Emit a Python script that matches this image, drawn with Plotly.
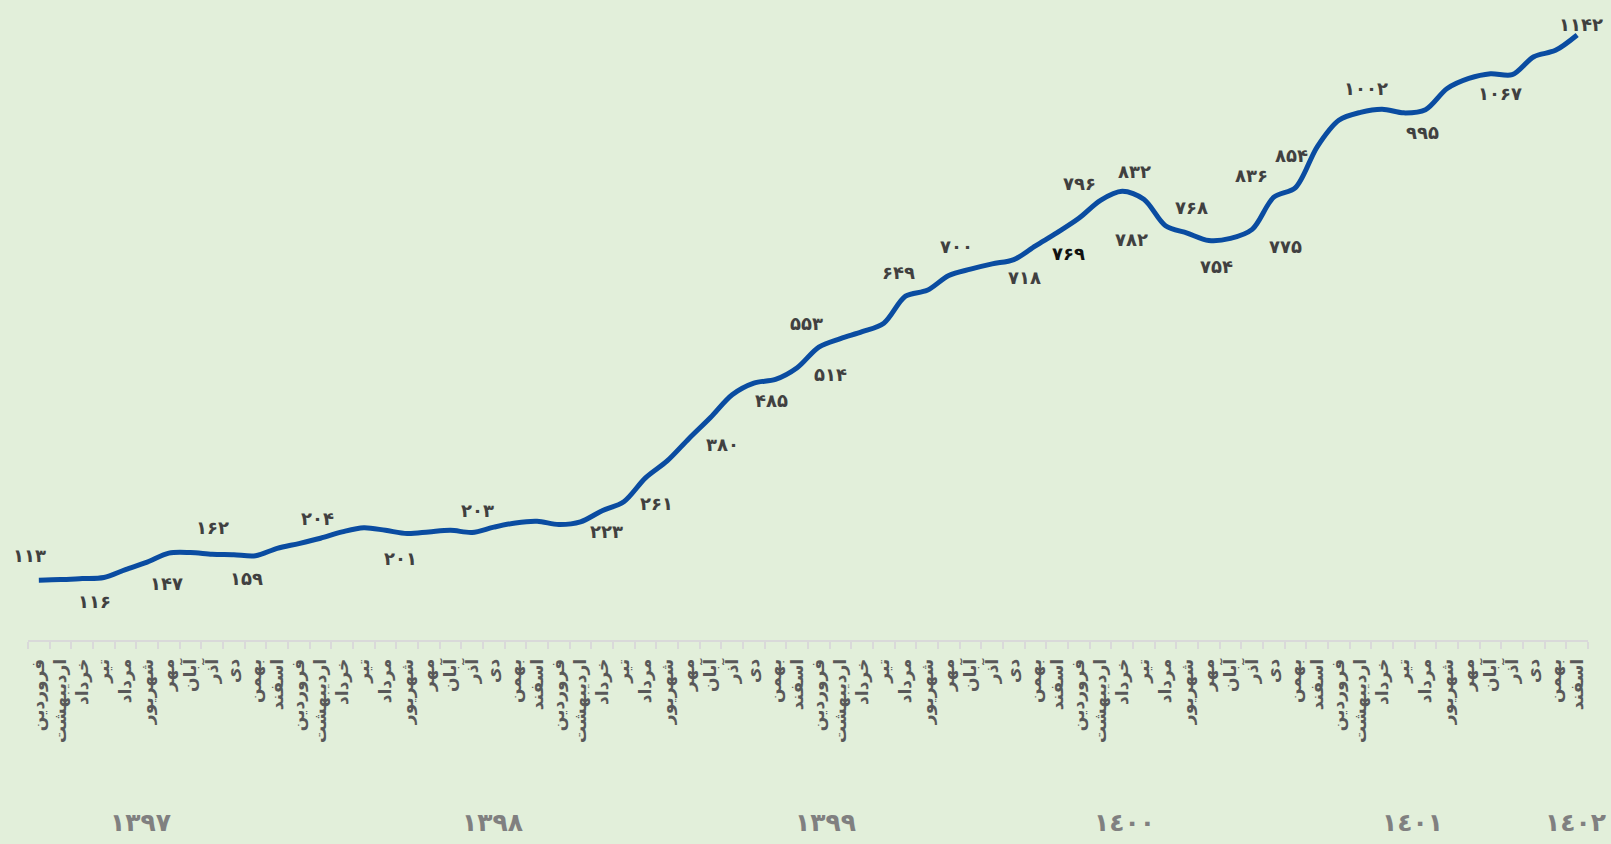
import plotly.graph_objects as go

# Monthly series, Farvardin 1397 .. Esfand 1402
months = ["فروردین", "اردیبهشت", "خرداد", "تیر", "مرداد", "شهریور",
          "مهر", "آبان", "آذر", "دی", "بهمن", "اسفند"]
years = ["۱۳۹۷", "۱۳۹۸", "۱۳۹۹", "١٤٠٠", "١٤٠١", "١٤٠٢"]

values = [113, 114, 116, 118, 133, 147, 164, 165, 162, 161,
          159, 173, 182, 192, 204, 212, 207, 201, 204, 207,
          203, 213, 221, 224, 218, 223, 244, 261, 306, 338,
          380, 420, 463, 485, 492, 514, 553, 569, 582, 598,
          649, 660, 688, 700, 710, 718, 744, 769, 796, 830,
          847, 832, 782, 768, 754, 758, 775, 836, 854, 931,
          981, 996, 1002, 995, 1001, 1041, 1060, 1069, 1067, 1101,
          1113, 1142]

# months whose value is printed on the chart
labelled = [0, 2, 5, 8, 10, 14, 17, 20, 25, 27, 30, 33, 35, 36, 40,
            43, 45, 47, 48, 51, 52, 53, 54, 56, 57, 58, 62, 63, 68, 71]

# label placement relative to its point, in pixels (right, down)
label_offsets = {
    0: (-9, -25), 2: (12, 23), 5: (19, 21), 8: (0, -27), 10: (-9, 23),
    14: (-25, -13), 17: (-7, 25), 20: (5, -22), 25: (26, 10), 27: (33, 2),
    30: (34, 6), 33: (18, 17), 35: (33, 7), 36: (-12, -24), 40: (-7, -24),
    43: (-14, -23), 45: (11, 18), 47: (11, 21), 48: (1, -35), 51: (-9, -28),
    52: (-34, 14), 53: (4, -26), 54: (8, 26), 56: (33, 17), 57: (-22, -22),
    58: (-4, -32), 62: (-16, -21), 63: (19, 20), 68: (-12, 19), 71: (4, -10),
}
# horizontal position of each year caption, in month units
year_pos = [4.67, 20.96, 36.3, 50.1, 63.4, 70.9]

FA_DIGITS = str.maketrans("0123456789", "۰۱۲۳۴۵۶۷۸۹")


def fa(n):
    return str(n).translate(FA_DIGITS)


n = len(values)
x = list(range(n))
tick_text = [months[i % 12] for i in x]

BG = "#E2EFDA"
LINE = "#0A4CA1"
FONT = "DejaVu Sans"

fig = go.Figure()
fig.add_trace(go.Scatter(
    x=x, y=values, mode="lines",
    line=dict(color=LINE, width=5, shape="spline", smoothing=0.9),
    hoverinfo="skip", showlegend=False,
))

annotations = []
for i in labelled:
    dx, dy = label_offsets[i]
    annotations.append(dict(
        x=i, y=values[i], xref="x", yref="y", text=fa(values[i]),
        showarrow=False, xshift=dx, yshift=-dy,
        xanchor="center", yanchor="middle",
        font=dict(family=FONT, size=18, weight="bold",
                  color="#111111" if i == 47 else "#404040"),
    ))

for yr, pos in zip(years, year_pos):
    annotations.append(dict(
        x=pos, y=-0.295, xref="x", yref="paper", text=yr,
        showarrow=False, xanchor="center", yanchor="middle",
        font=dict(family=FONT, size=25, weight="bold", color="#808080"),
    ))

fig.update_layout(
    width=1611, height=844,
    margin=dict(l=28, r=23, t=20, b=204),
    paper_bgcolor=BG, plot_bgcolor=BG,
    annotations=annotations,
    xaxis=dict(
        range=[-0.5, n - 0.5],
        tickmode="array", tickvals=x, ticktext=tick_text,
        tickangle=-90, ticks="", ticklabelstandoff=10,
        tickfont=dict(family=FONT, size=17, weight="bold", color="#595959"),
        showgrid=False, zeroline=False,
        showline=True, linecolor="#D9D9D9", linewidth=2,
        minor=dict(tick0=-0.5, dtick=1, ticks="outside", ticklen=7,
                   tickcolor="#D9D9D9", tickwidth=2, showgrid=False),
    ),
    yaxis=dict(
        range=[0, 1170.3], visible=False, showgrid=False, zeroline=False,
    ),
)

fig.write_html("out.html")
